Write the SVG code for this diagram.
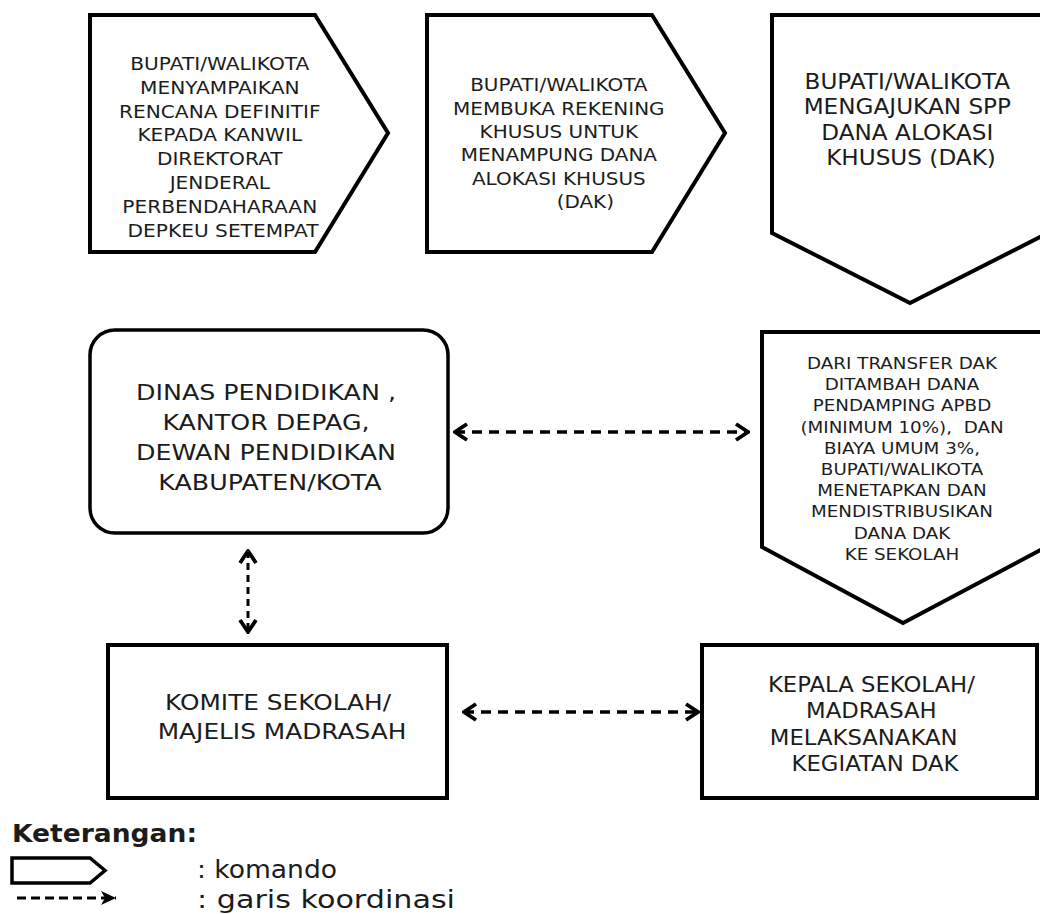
<svg xmlns="http://www.w3.org/2000/svg" width="1040" height="914" viewBox="0 0 1040 914">
<style>
  .shape { fill: #ffffff; stroke: #000000; stroke-width: 4; stroke-linejoin: miter; }
  .round { fill: #ffffff; stroke: #000000; stroke-width: 3.5; }
  .t { font-family: "DejaVu Sans", Verdana, "Liberation Sans", sans-serif; fill: #1c1c1c; text-anchor: middle; }
  .coord { fill: none; stroke: #000000; stroke-width: 3.5; stroke-dasharray: 10 7; }
  .coordv { fill: none; stroke: #000000; stroke-width: 3; stroke-dasharray: 7 5; }
  .legend { font-family: "DejaVu Sans", Verdana, "Liberation Sans", sans-serif; fill: #1c1c1c; }
</style>
<defs>
  <marker id="chev" markerUnits="userSpaceOnUse" viewBox="0 0 16 20" refX="14" refY="10" markerWidth="16" markerHeight="20" orient="auto-start-reverse">
    <path d="M2,2 L14,10 L2,18" fill="none" stroke="#000" stroke-width="3.8" stroke-linejoin="miter"/>
  </marker>
  <marker id="solid" markerUnits="userSpaceOnUse" viewBox="0 0 16 14" refX="15" refY="7" markerWidth="16" markerHeight="14" orient="auto">
    <path d="M0,0 L15,7 L0,14 L4,7 Z" fill="#000"/>
  </marker>
</defs>
<rect width="1040" height="914" fill="#ffffff"/>

<g id="node-rencana-definitif">
  <polygon class="shape" points="90,15 315,15 388,133 315,252 90,252"/>
  <g transform="translate(223 0) scale(1.12 1)">
    <text class="t" font-size="18">
      <tspan x="0" y="70">BUPATI/WALIKOTA</tspan>
      <tspan x="0" y="93.8">MENYAMPAIKAN</tspan>
      <tspan x="0" y="117.6">RENCANA DEFINITIF</tspan>
      <tspan x="0" y="141.4">KEPADA KANWIL</tspan>
      <tspan x="0" y="165.2">DIREKTORAT</tspan>
      <tspan x="0" y="189">JENDERAL</tspan>
      <tspan x="0" y="212.8">PERBENDAHARAAN</tspan>
      <tspan x="0" y="236.6">DEPKEU SETEMPAT</tspan>
    </text>
  </g>
</g>

<g id="node-rekening-khusus">
  <polygon class="shape" points="427,15 652,15 725,133 652,252 427,252"/>
  <g transform="translate(562 0) scale(1.11 1)">
    <text class="t" font-size="18">
      <tspan x="0" y="91.5">BUPATI/WALIKOTA</tspan>
      <tspan x="0" y="114.8">MEMBUKA REKENING</tspan>
      <tspan x="0" y="138.2">KHUSUS UNTUK</tspan>
      <tspan x="0" y="161.5">MENAMPUNG DANA</tspan>
      <tspan x="0" y="184.8">ALOKASI KHUSUS</tspan>
      <tspan x="21" y="208.2">(DAK)</tspan>
    </text>
  </g>
</g>

<g id="node-spp-dak">
  <polygon class="shape" points="772,15 1050,15 1050,232 910,303 772,233"/>
  <g transform="translate(911 0) scale(1.13 1)">
    <text class="t" font-size="20.5">
      <tspan x="0" y="89">BUPATI/WALIKOTA</tspan>
      <tspan x="0" y="114.3">MENGAJUKAN SPP</tspan>
      <tspan x="0" y="139.6">DANA ALOKASI</tspan>
      <tspan x="0" y="165">KHUSUS (DAK)</tspan>
    </text>
  </g>
</g>

<g id="node-transfer-dak">
  <polygon class="shape" points="762,332 1050,332 1050,545 903,623 762,547"/>
  <g transform="translate(902 0) scale(1.18 1)">
    <text class="t" font-size="15.5" xml:space="preserve"><tspan x="0" y="369">DARI TRANSFER DAK</tspan><tspan x="0" y="390.2">DITAMBAH DANA</tspan><tspan x="0" y="411.4">PENDAMPING APBD</tspan><tspan x="0" y="432.6">(MINIMUM 10%),  DAN</tspan><tspan x="0" y="453.8">BIAYA UMUM 3%,</tspan><tspan x="0" y="475">BUPATI/WALIKOTA</tspan><tspan x="0" y="496.2">MENETAPKAN DAN</tspan><tspan x="0" y="517.4">MENDISTRIBUSIKAN</tspan><tspan x="0" y="538.6">DANA DAK</tspan><tspan x="0" y="559.8">KE SEKOLAH</tspan></text>
  </g>
</g>

<g id="node-dinas-pendidikan">
  <rect class="round" x="90" y="330" width="358" height="203" rx="25" ry="25"/>
  <g transform="translate(270 0) scale(1.236 1)">
    <text class="t" font-size="20.5">
      <tspan x="0" y="400.5">DINAS PENDIDIKAN ,</tspan>
      <tspan x="0" y="430.5">KANTOR DEPAG,</tspan>
      <tspan x="0" y="460.5">DEWAN PENDIDIKAN</tspan>
      <tspan x="0" y="490.5">KABUPATEN/KOTA</tspan>
    </text>
  </g>
</g>

<g id="node-komite-sekolah">
  <rect class="shape" x="108" y="645" width="339" height="153"/>
  <g transform="translate(282 0) scale(1.21 1)">
    <text class="t" font-size="20.5">
      <tspan x="0" y="710.5">KOMITE SEKOLAH/</tspan>
      <tspan x="0" y="739.5">MAJELIS MADRASAH</tspan>
    </text>
  </g>
</g>

<g id="node-kepala-sekolah">
  <rect class="shape" x="702" y="645" width="335" height="153"/>
  <g transform="translate(875 0) scale(1.11 1)">
    <text class="t" font-size="20.5">
      <tspan x="0" y="692">KEPALA SEKOLAH/</tspan>
      <tspan x="0" y="718.5">MADRASAH</tspan>
      <tspan x="-7" y="745">MELAKSANAKAN</tspan>
      <tspan x="0" y="771.5">KEGIATAN DAK</tspan>
    </text>
  </g>
</g>

<g id="connectors">
  <line class="coord" x1="455" y1="432" x2="748" y2="432" marker-start="url(#chev)" marker-end="url(#chev)"/>
  <line class="coord" x1="464" y1="712" x2="698" y2="712" marker-start="url(#chev)" marker-end="url(#chev)"/>
  <line class="coordv" x1="248" y1="551" x2="248" y2="632" marker-start="url(#chev)" marker-end="url(#chev)"/>
</g>

<g id="legend">
  <text class="legend" x="12" y="842" font-size="25" font-weight="bold" textLength="185" lengthAdjust="spacingAndGlyphs">Keterangan:</text>
  <polygon fill="#ffffff" stroke="#000" stroke-width="3.5" points="12,858 90,858 105,870.5 90,883 12,883"/>
  <text class="legend" x="197" y="878" font-size="24" textLength="140" lengthAdjust="spacingAndGlyphs">: komando</text>
  <line x1="17" y1="898" x2="116" y2="898" stroke="#000" stroke-width="3" stroke-dasharray="9 5" marker-end="url(#solid)"/>
  <text class="legend" x="197" y="908" font-size="24" textLength="258" lengthAdjust="spacingAndGlyphs">: garis koordinasi</text>
</g>
</svg>
